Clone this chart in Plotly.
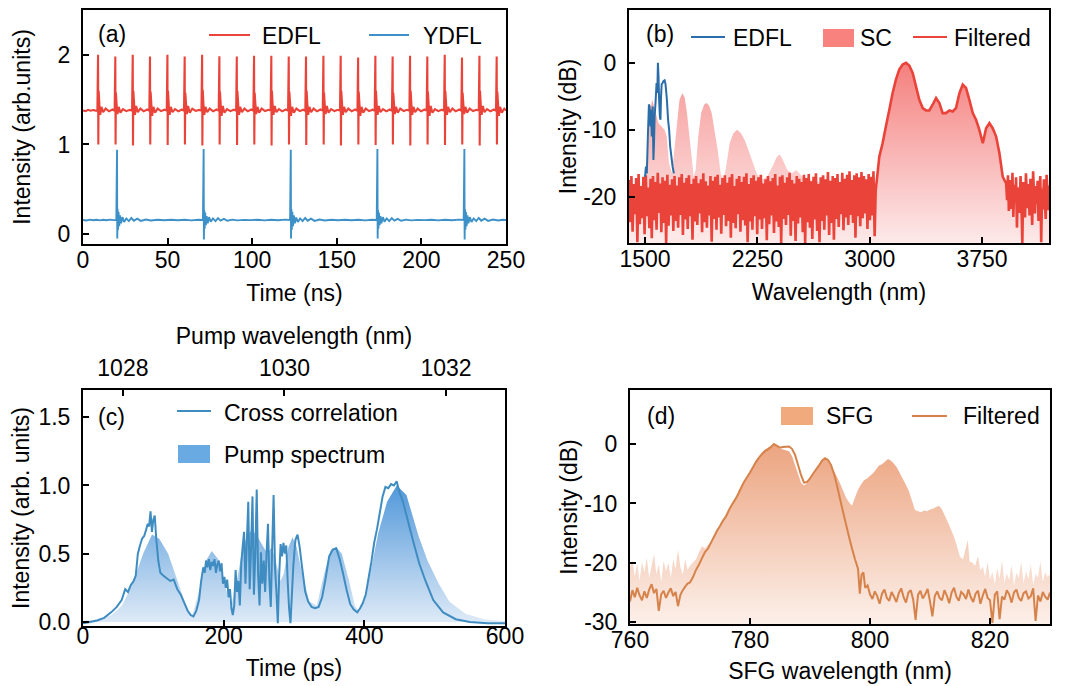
import plotly.graph_objects as go

W, H = 1084, 686
OFF = 8  # page body margin of the written html
FONT = "Liberation Sans, Arial, sans-serif"
FS = 23

def fx(p):
    return (p - OFF) / W

def fy(p):
    return 1 - (p - OFF) / H

RED = "#E9433A"
BLUE_A = "#3D91C8"
BLUE_B = "#2B6DA8"
BLUE_C = "#3F8CC1"
ORANGE = "#D6834B"
SC_SWATCH = "#F7827E"
PUMP_SWATCH = "#6AAAE2"
SFG_SWATCH = "#F0AA7E"

# ---------------- (a) temporal traces ----------------
edfl_t = [
    0.0, 1.5, 3.0, 4.5, 6.0, 7.5,
    8.5, 8.9, 9.05, 9.25, 9.7, 10.2, 10.9, 11.9, 13.4, 15.4, 17.4,
    18.7, 19.1, 19.25, 19.45, 19.9, 20.4, 21.1, 22.1, 23.6, 25.6, 27.6,
    29.0, 29.4, 29.55, 29.75, 30.2, 30.7, 31.4, 32.4, 33.9, 35.9, 37.9,
    39.2, 39.6, 39.75, 39.95, 40.4, 40.9, 41.6, 42.6, 44.1, 46.1, 48.1,
    49.5, 49.9, 50.05, 50.25, 50.7, 51.2, 51.9, 52.9, 54.4, 56.4, 58.4,
    59.7, 60.1, 60.25, 60.45, 60.9, 61.4, 62.1, 63.1, 64.6, 66.6, 68.6,
    70.0, 70.4, 70.55, 70.75, 71.2, 71.7, 72.4, 73.4, 74.9, 76.9, 78.9,
    80.2, 80.6, 80.75, 80.95, 81.4, 81.9, 82.6, 83.6, 85.1, 87.1, 89.1,
    90.5, 90.9, 91.05, 91.25, 91.7, 92.2, 92.9, 93.9, 95.4, 97.4, 99.4,
    100.7, 101.1, 101.25, 101.45, 101.9, 102.4, 103.1, 104.1, 105.6, 107.6, 109.6,
    110.9, 111.3, 111.45, 111.65, 112.1, 112.6, 113.3, 114.3, 115.8, 117.8, 119.8,
    121.2, 121.6, 121.75, 121.95, 122.4, 122.9, 123.6, 124.6, 126.1, 128.1, 130.1,
    131.4, 131.8, 131.95, 132.15, 132.6, 133.1, 133.8, 134.8, 136.3, 138.3, 140.3,
    141.7, 142.1, 142.25, 142.45, 142.9, 143.4, 144.1, 145.1, 146.6, 148.6, 150.6,
    151.9, 152.3, 152.45, 152.65, 153.1, 153.6, 154.3, 155.3, 156.8, 158.8, 160.8,
    162.2, 162.6, 162.75, 162.95, 163.4, 163.9, 164.6, 165.6, 167.1, 169.1, 171.1,
    172.4, 172.8, 172.95, 173.15, 173.6, 174.1, 174.8, 175.8, 177.3, 179.3, 181.3,
    182.6, 183.0, 183.15, 183.35, 183.8, 184.3, 185.0, 186.0, 187.5, 189.5, 191.5,
    192.9, 193.3, 193.45, 193.65, 194.1, 194.6, 195.3, 196.3, 197.8, 199.8, 201.8,
    203.1, 203.5, 203.65, 203.85, 204.3, 204.8, 205.5, 206.5, 208.0, 210.0, 212.0,
    213.4, 213.8, 213.95, 214.15, 214.6, 215.1, 215.8, 216.8, 218.3, 220.3, 222.3,
    223.6, 224.0, 224.15, 224.35, 224.8, 225.3, 226.0, 227.0, 228.5, 230.5, 232.5,
    233.9, 234.3, 234.45, 234.65, 235.1, 235.6, 236.3, 237.3, 238.8, 240.8, 242.8,
    244.1, 244.5, 244.65, 244.85, 245.3, 245.8, 246.5, 247.5, 249.0, 250.0,
]
edfl_v = [
    1.38, 1.372, 1.386, 1.376, 1.384, 1.378,
    1.376, 2.00, 1.00, 1.60, 1.45, 1.33, 1.42, 1.36, 1.40, 1.37, 1.39,
    1.377, 1.98, 1.00, 1.58, 1.44, 1.34, 1.42, 1.355, 1.395, 1.372, 1.386,
    1.378, 2.00, 0.99, 1.60, 1.46, 1.33, 1.43, 1.36, 1.40, 1.37, 1.39,
    1.376, 1.98, 1.00, 1.59, 1.45, 1.32, 1.42, 1.355, 1.40, 1.372, 1.388,
    1.378, 2.00, 0.995, 1.60, 1.44, 1.33, 1.42, 1.36, 1.395, 1.37, 1.39,
    1.377, 1.98, 1.00, 1.58, 1.46, 1.34, 1.43, 1.355, 1.40, 1.374, 1.386,
    1.376, 2.00, 0.99, 1.61, 1.45, 1.33, 1.42, 1.36, 1.40, 1.37, 1.39,
    1.378, 1.985, 1.00, 1.59, 1.44, 1.32, 1.43, 1.355, 1.395, 1.372, 1.388,
    1.377, 1.98, 0.995, 1.60, 1.46, 1.33, 1.42, 1.36, 1.40, 1.37, 1.39,
    1.376, 1.99, 1.00, 1.58, 1.45, 1.34, 1.42, 1.355, 1.40, 1.373, 1.387,
    1.378, 1.99, 0.99, 1.60, 1.44, 1.33, 1.43, 1.36, 1.395, 1.37, 1.39,
    1.377, 1.98, 1.00, 1.59, 1.46, 1.32, 1.42, 1.355, 1.40, 1.372, 1.388,
    1.376, 1.98, 0.995, 1.60, 1.45, 1.33, 1.42, 1.36, 1.40, 1.37, 1.39,
    1.378, 1.99, 1.00, 1.58, 1.44, 1.34, 1.43, 1.355, 1.395, 1.373, 1.387,
    1.377, 1.99, 0.99, 1.60, 1.46, 1.33, 1.42, 1.36, 1.40, 1.37, 1.39,
    1.376, 1.97, 1.00, 1.59, 1.45, 1.32, 1.42, 1.355, 1.40, 1.372, 1.388,
    1.378, 1.99, 0.995, 1.60, 1.44, 1.33, 1.43, 1.36, 1.395, 1.37, 1.39,
    1.377, 1.98, 1.00, 1.58, 1.46, 1.34, 1.42, 1.355, 1.40, 1.373, 1.387,
    1.376, 1.99, 0.99, 1.60, 1.45, 1.33, 1.42, 1.36, 1.40, 1.37, 1.39,
    1.378, 1.98, 1.00, 1.59, 1.44, 1.32, 1.43, 1.355, 1.395, 1.372, 1.388,
    1.377, 2.00, 0.995, 1.60, 1.46, 1.33, 1.42, 1.36, 1.40, 1.37, 1.39,
    1.376, 1.97, 1.00, 1.58, 1.45, 1.34, 1.42, 1.355, 1.40, 1.373, 1.387,
    1.378, 1.99, 0.99, 1.60, 1.44, 1.33, 1.43, 1.36, 1.395, 1.37, 1.39,
    1.377, 1.98, 1.00, 1.59, 1.46, 1.32, 1.42, 1.355, 1.40, 1.38,
]

ydfl_t = [
    0, 2, 4, 6, 8, 10, 12, 14, 16, 18, 19.7,
    20.1, 20.25, 20.45, 20.7, 21.0, 21.4, 21.9, 22.5, 23.3, 24.3, 25.6, 27.1, 28.6,
    30.1, 32.1, 34.1, 37.1, 40.1, 44.1, 48.1, 52.1, 56.1, 60.1, 64.1, 68.1, 70.9,
    71.3, 71.45, 71.65, 71.9, 72.2, 72.6, 73.1, 73.7, 74.5, 75.5, 76.8, 78.3, 79.8,
    81.3, 83.3, 85.3, 88.3, 91.3, 95.3, 99.3, 103.3, 107.3, 111.3, 115.3, 119.3, 122.4,
    122.8, 122.95, 123.15, 123.4, 123.7, 124.1, 124.6, 125.2, 126.0, 127.0, 128.3, 129.8, 131.3,
    132.8, 134.8, 136.8, 139.8, 142.8, 146.8, 150.8, 154.8, 158.8, 162.8, 166.8, 170.8, 173.6,
    174.0, 174.15, 174.35, 174.6, 174.9, 175.3, 175.8, 176.4, 177.2, 178.2, 179.5, 181.0, 182.5,
    184.0, 186.0, 188.0, 191.0, 194.0, 198.0, 202.0, 206.0, 210.0, 214.0, 218.0, 222.0, 225.0,
    225.4, 225.55, 225.75, 226.0, 226.3, 226.7, 227.2, 227.8, 228.6, 229.6, 230.9, 232.4, 233.9,
    235.4, 237.4, 239.4, 242.4, 245.4, 248.0, 250.0,
]
ydfl_v = [
    0.158, 0.152, 0.162, 0.155, 0.161, 0.154, 0.160, 0.155, 0.162, 0.156, 0.158,
    0.94, -0.05, 0.28, 0.05, 0.25, 0.09, 0.21, 0.12, 0.19, 0.135, 0.175, 0.145, 0.18,
    0.15, 0.172, 0.148, 0.163, 0.153, 0.16, 0.155, 0.161, 0.155, 0.16, 0.154, 0.161, 0.157,
    0.95, -0.06, 0.27, 0.06, 0.24, 0.10, 0.20, 0.12, 0.19, 0.14, 0.175, 0.145, 0.178,
    0.15, 0.17, 0.149, 0.162, 0.154, 0.159, 0.156, 0.161, 0.154, 0.16, 0.155, 0.162, 0.157,
    0.94, -0.05, 0.28, 0.05, 0.25, 0.09, 0.21, 0.12, 0.185, 0.135, 0.175, 0.145, 0.18,
    0.15, 0.172, 0.148, 0.163, 0.153, 0.16, 0.155, 0.161, 0.155, 0.16, 0.154, 0.161, 0.157,
    0.95, -0.05, 0.27, 0.06, 0.24, 0.10, 0.20, 0.12, 0.19, 0.14, 0.175, 0.145, 0.178,
    0.15, 0.17, 0.149, 0.162, 0.154, 0.159, 0.156, 0.161, 0.154, 0.16, 0.155, 0.162, 0.157,
    0.95, -0.06, 0.28, 0.05, 0.25, 0.09, 0.21, 0.12, 0.19, 0.135, 0.175, 0.145, 0.18,
    0.15, 0.172, 0.148, 0.163, 0.153, 0.16, 0.157,
]

# ---------------- (b) spectra ----------------
edfl_wl = [1500, 1506, 1512, 1519, 1526, 1531, 1536, 1540, 1545, 1551, 1556, 1560, 1564, 1570,
           1577, 1582, 1586, 1590, 1594, 1599, 1603, 1607, 1611, 1617, 1624, 1631, 1637, 1646,
           1654, 1661, 1668, 1676, 1684, 1693]
edfl_db = [-17, -15.5, -16.5, -11, -6.2, -6.5, -9.5, -7, -11, -6.5, -14.5, -12, -8, -6,
           -3, -4.5, 0, -2, -5.5, -8, -8.5, -5, -3.2, -3, -2.7, -2.6, -3.2, -5.5,
           -8.5, -10, -12.5, -14, -15.5, -16.5]

sc_wl = [1393, 1450, 1500, 1520, 1535, 1548, 1560, 1575, 1590, 1610,
         1630, 1645, 1660, 1680, 1700, 1715, 1730, 1750, 1765, 1780,
         1795, 1810, 1825, 1838, 1855, 1875, 1895, 1912, 1928, 1945,
         1965, 1985, 2005, 2025, 2045, 2065, 2090, 2115, 2140, 2165,
         2190, 2215, 2245, 2275, 2315, 2350, 2380, 2400, 2420, 2450,
         2480, 2510, 2550, 2600, 2700, 2800, 2900, 3000, 3030,
         3040, 3050, 3064, 3086, 3108, 3131, 3153, 3175, 3197, 3220,
         3242, 3264, 3287, 3309, 3331, 3354, 3376, 3398, 3420, 3443,
         3465, 3487, 3509, 3532, 3554, 3576, 3599, 3621, 3643, 3665,
         3688, 3710, 3732, 3755, 3777, 3799, 3821, 3844, 3866, 3888,
         3911, 4000, 4100, 4197]
sc_db = [-20, -19, -18, -12, -7, -5.5, -6.5, -8, -9, -9.5,
         -10, -11, -15, -16.5, -12, -8, -5.5, -4.5, -5.2, -7.5,
         -11, -14.5, -17, -16, -11, -7.5, -6.2, -6, -6.4, -7.5,
         -10, -13, -16.5, -17.5, -15, -12, -10.5, -10, -10.5, -11.5,
         -13, -14.5, -16.5, -17.5, -17, -15.5, -14, -13.7, -14.5, -16,
         -16.5, -16, -17, -17.5, -18, -18, -18, -18, -18.5,
         -19, -17, -14, -12, -9.5, -7, -4.5, -2.5, -1, -0.25,
         0, -0.4, -1.5, -3.5, -5.5, -6.75, -7.1, -7.1, -6.25, -5.25,
         -6, -7.5, -7.5, -7.1, -7.25, -6.75, -4.5, -3.25, -3.75, -5.5,
         -7.5, -8.5, -10, -12, -9.75, -9, -9.75, -11, -13.5, -17,
         -18, -18.5, -18.5, -18.5]
SC_SPLIT = 59  # first MIR sample

# filtered: noise floor sampled every 8 nm from 1393 nm, MIR band, noise every 6 nm from 3911 nm
filt_left_db = [
    -17.5, -23.8, -16.9, -25.2, -18.1, -22.6, -17.2, -26.8, -16.6, -24.1,
    -18.4, -23.2, -17.0, -25.6, -16.8, -22.9, -18.6, -24.7, -17.3, -26.2,
    -16.9, -23.5, -17.8, -24.9, -16.4, -22.4, -18.0, -25.3, -17.1, -23.9,
    -17.6, -26.9, -16.7, -24.3, -18.2, -22.8, -17.4, -25.1, -16.9, -23.6,
    -18.3, -24.6, -17.1, -22.7, -16.6, -25.7, -17.9, -23.4, -17.2, -24.8,
    -16.8, -22.9, -18.1, -26.4, -17.3, -23.7, -16.9, -24.2, -18.0, -22.5,
    -17.4, -25.3, -16.5, -23.8, -17.7, -24.6, -18.3, -22.8, -16.9, -26.7,
    -17.6, -23.3, -17.0, -24.9, -16.7, -23.1, -18.2, -25.5, -17.2, -22.7,
    -16.8, -24.4, -17.9, -23.6, -17.1, -26.1, -16.6, -23.9, -18.4, -24.7,
    -17.3, -22.6, -16.9, -25.2, -17.8, -23.5, -17.0, -24.3, -16.5, -26.8,
    -18.1, -23.7, -17.2, -24.9, -16.8, -22.9, -17.6, -25.6, -17.1, -23.4,
    -16.7, -24.8, -18.0, -23.2, -17.4, -26.5, -16.9, -24.1, -17.7, -22.8,
    -17.2, -25.4, -16.6, -23.7, -18.3, -24.5, -17.0, -26.9, -16.8, -23.3,
    -17.9, -24.2, -17.1, -22.7, -16.4, -25.8, -17.5, -23.6, -18.0, -26.6,
    -16.9, -24.0, -17.3, -23.1, -17.8, -25.3, -16.7, -26.9, -17.2, -23.8,
    -16.6, -24.6, -17.7, -26.3, -17.0, -23.4, -16.5, -25.1, -18.1, -26.8,
    -17.1, -23.6, -16.8, -24.9, -17.4, -22.8, -16.3, -25.7, -17.6, -23.9,
    -16.9, -26.4, -17.2, -23.3, -16.6, -24.5, -17.8, -22.6, -16.4, -25.0,
    -17.3, -23.1, -16.7, -24.2, -16.2, -22.7, -17.5, -23.9, -16.8, -26.1,
    -16.5, -22.9, -17.1, -24.4, -16.3, -23.2, -16.9, -22.5, -17.4, -24.8,
    -16.6, -23.5, -17.0, -22.8, -16.2, -25.9,
]
filt_right_db = [
    -18.0, -20.5, -16.8, -22.1, -17.5, -19.6, -21.8, -16.4, -23.0, -18.2,
    -20.9, -17.1, -24.6, -18.6, -19.8, -22.4, -16.9, -21.2, -26.9, -17.8,
    -20.3, -23.1, -16.5, -19.4, -21.7, -18.1, -22.8, -17.3, -20.6, -24.2,
    -16.2, -19.9, -22.5, -18.4, -21.1, -17.6, -23.6, -19.2, -16.9, -26.8,
    -18.8, -21.9, -17.4, -20.2, -23.3, -16.7, -19.5, -22.0, -18.3,
]
filt_left_wl = [1393 + 8 * i for i in range(len(filt_left_db))]
filt_right_wl = [3911 + 6 * i for i in range(len(filt_right_db))]
filt_wl = filt_left_wl + sc_wl[59:99] + filt_right_wl
filt_db = filt_left_db + sc_db[59:99] + filt_right_db

# ---------------- (c) cross correlation & pump spectrum ----------------
cc_t = [0, 10, 20, 30, 40, 48, 55, 60, 64, 68, 72, 75, 78, 81, 84, 87, 90, 92, 94, 96,
        98, 100, 102, 104, 107, 110, 114, 119, 124, 129, 134, 139, 144, 149, 153, 157,
        161, 165, 168, 171, 173, 175, 177, 179, 181, 183, 185, 187, 189, 191, 193, 195,
        197, 199, 201, 203, 205, 207, 209, 211, 213,
        215, 217, 219, 221, 223, 225, 227, 229, 231, 233, 235, 237, 239, 241, 243, 245,
        247, 249, 251, 253, 255, 257, 259, 261, 263, 265, 267, 269, 271, 273, 275, 277,
        279, 281, 283, 285, 287, 289, 291, 293, 295, 297, 299,
        302, 305, 308, 312, 316, 320, 325, 330, 335, 340, 345, 350, 355, 360, 365, 370,
        375, 380, 385, 390, 394, 398, 402, 406, 410, 414, 418, 422, 426, 430, 434, 438,
        442, 446, 450, 455, 462, 470, 478, 487, 498, 512, 530, 550, 575, 600]
cc_v = [-0.01, 0.0, 0.01, 0.03, 0.07, 0.11, 0.16, 0.24, 0.22, 0.27, 0.30, 0.34, 0.50, 0.56,
        0.61, 0.63, 0.68, 0.72, 0.70, 0.81, 0.66, 0.75, 0.78, 0.62, 0.45, 0.36, 0.34, 0.32,
        0.30, 0.31, 0.24, 0.20, 0.14, 0.08, 0.05, 0.04,
        0.08, 0.16, 0.30, 0.40, 0.36, 0.45, 0.40, 0.46, 0.38, 0.44, 0.41, 0.46, 0.36, 0.42,
        0.45, 0.37, 0.43, 0.28, 0.33, 0.25, 0.31, 0.18, 0.24, 0.10, 0.05,
        0.12, 0.38, 0.22, 0.30, 0.12, 0.43, 0.55, 0.66, 0.28, 0.60, 0.88, 0.24, 0.55, 0.92,
        0.20, 0.50, 0.97, 0.35, 0.12, 0.51, 0.28, 0.45, 0.22, 0.50, 0.72, 0.30, 0.11, 0.55,
        0.93, 0.40, 0.22, -0.01, 0.35, 0.57, 0.48, 0.58, 0.50, 0.56, 0.30, 0.10, -0.01,
        0.20, 0.41,
        0.60, 0.64, 0.55, 0.38, 0.22, 0.15, 0.11, 0.10, 0.11, 0.18, 0.32, 0.48, 0.53, 0.54,
        0.46, 0.35, 0.23, 0.13, 0.09, 0.07, 0.10, 0.14, 0.20, 0.32, 0.44, 0.58, 0.68, 0.80,
        0.92, 0.99, 0.98, 1.01, 1.00, 1.03, 0.95, 0.88, 0.74, 0.58, 0.43, 0.30, 0.16, 0.07,
        0.02, 0.0, -0.01, -0.01]

pump_wl = [1027.51, 1027.69, 1027.86, 1027.99, 1028.12, 1028.25, 1028.36, 1028.45, 1028.56, 1028.64,
           1028.73, 1028.80, 1028.86, 1028.94, 1029.03, 1029.10, 1029.18, 1029.27, 1029.34, 1029.41,
           1029.47, 1029.53, 1029.60, 1029.67, 1029.74, 1029.79, 1029.84, 1029.89, 1029.95, 1029.99,
           1030.05, 1030.10, 1030.15, 1030.22, 1030.31, 1030.40, 1030.49, 1030.57, 1030.64, 1030.71,
           1030.80, 1030.87, 1030.92, 1030.99, 1031.07, 1031.16, 1031.27, 1031.39, 1031.51, 1031.66,
           1031.77, 1031.91, 1032.04, 1032.24, 1032.47, 1032.73]
pump_v = [0.01, 0.02, 0.05, 0.12, 0.28, 0.50, 0.64, 0.61, 0.50, 0.36,
          0.20, 0.09, 0.05, 0.22, 0.45, 0.52, 0.46, 0.25, 0.12, 0.30,
          0.50, 0.62, 0.68, 0.62, 0.55, 0.50, 0.55, 0.45, 0.30, 0.35,
          0.55, 0.62, 0.55, 0.35, 0.15, 0.12, 0.35, 0.52, 0.55, 0.50,
          0.30, 0.12, 0.08, 0.15, 0.38, 0.65, 0.88, 1.00, 0.93, 0.63,
          0.45, 0.28, 0.15, 0.06, 0.02, 0.005]

# ---------------- (d) SFG spectra ----------------
sfgf_left_db = [-26.5, -24.6, -25.8, -24.2, -25.5, -26.3, -24.8, -25.9, -24.5, -23.6,
                -25.1, -24.4, -28.1, -25.3, -24.7, -25.9, -25.0, -24.3, -25.6, -24.9,
                -27.3, -25.4, -24.6, -24.0, -23.5]
sfgf_mid_db = [-23.3, -22.4, -21.2, -20.3, -19.2, -18.2, -17.6, -16.6, -15.6, -14.6,
               -13.8, -12.9, -12.2, -11.1, -10.2, -9.4, -8.5, -7.4, -6.4, -5.6,
               -4.8, -3.9, -3.0, -2.3, -1.7, -1.2, -0.9, -0.5, 0.0, -0.3,
               -0.6, -0.5, -0.45, -0.4, -0.8, -1.8, -3.5, -5.2, -6.5, -6.4,
               -5.8, -5.0, -4.3, -3.6, -2.8, -2.4, -2.7, -3.5, -5.0, -7.0,
               -9.2, -11.4, -13.5, -15.6, -17.6, -19.4, -21.0]
sfgf_tail_nm = [798.3, 798.6, 798.9, 799.2, 799.6, 800.0]
sfgf_tail_db = [-25.2, -22.0, -21.6, -24.2, -23.8, -25.3]
sfgf_right_db = [
    -26.1, -24.8, -25.6, -26.9, -25.2, -24.5, -25.9, -26.4, -24.9, -25.7,
    -26.6, -25.1, -24.3, -25.8, -26.7, -25.0, -24.6, -26.2, -29.6, -25.4,
    -24.7, -26.0, -25.3, -24.4, -26.5, -29.0, -25.6, -24.8, -25.9, -26.3,
    -24.6, -25.5, -26.8, -25.0, -24.2, -25.7, -26.4, -24.9, -25.3, -26.1,
    -24.5, -25.8, -26.6, -25.2, -24.7, -26.9, -25.5, -24.4, -25.9, -26.3,
    -30.1, -25.4, -24.8, -29.5, -25.7, -26.2, -24.6, -25.3, -26.7, -25.0,
    -24.5, -25.9, -26.4, -25.1, -24.8, -26.0, -25.6, -24.3, -29.8, -25.5,
    -26.5, -24.9, -25.7, -26.2, -25.0,
]
sfgf_nm = ([round(760 + 0.4 * i, 1) for i in range(len(sfgf_left_db))]
           + [770 + 0.5 * i for i in range(len(sfgf_mid_db))]
           + sfgf_tail_nm
           + [round(800.4 + 0.4 * i, 1) for i in range(len(sfgf_right_db))])
sfgf_db = sfgf_left_db + sfgf_mid_db + sfgf_tail_db + sfgf_right_db

sfg_left_db = [-20.8, -19.6, -22.3, -20.1, -23.0, -19.9, -21.6, -19.2, -22.5, -20.6,
               -18.6, -21.9, -20.3, -23.2, -19.7, -21.4, -20.0, -22.6, -19.5, -21.1,
               -17.8, -20.7, -22.0, -19.4, -21.2, -20.5]
sfg_mid_db = [-20.0, -19.4, -18.2, -17.2, -17.6, -17.0, -16.4, -15.4, -14.5, -13.6,
              -12.8, -12.0, -11.0, -10.1, -9.3, -8.4, -7.3, -6.3, -5.5, -4.7,
              -3.8, -2.8, -2.0, -1.4, -0.9, -0.6, -0.4, 0.0, -0.4, -0.8,
              -0.9, -1.0, -1.2, -2.0, -3.6, -5.2, -6.5, -7.0, -6.6, -5.9,
              -5.1, -4.4, -3.7, -2.9, -2.5, -2.9, -3.6, -4.5, -5.5, -6.6,
              -7.8, -9.0, -9.8, -10.4, -9.0, -7.7, -6.8, -6.1, -5.8, -5.4,
              -4.9, -4.3, -3.6, -3.4, -2.9, -2.5, -2.8, -3.3, -4.0, -4.9,
              -5.8, -6.9, -8.0, -9.6, -11.1, -11.3, -11.5, -11.2, -11.3, -11.0,
              -10.9, -10.6, -10.4, -11.0, -12.0, -13.2, -14.4, -15.6, -17.2, -19.0,
              -19.4]
sfg_right_nm = [816.0, 816.3, 816.6, 817.0, 817.5, 818.0, 818.4, 818.8, 819.2, 819.6,
                820.0, 820.4, 820.8, 821.2, 821.6, 822.0, 822.4, 822.8, 823.2, 823.6,
                824.0, 824.4, 824.8, 825.2, 825.6, 826.0, 826.4, 826.8, 827.2, 827.6,
                828.0, 828.4, 828.8, 829.2, 829.6, 830.0]
sfg_right_db = [-17.5, -16.2, -19.8, -19.9, -20.5, -18.9, -21.3, -20.6, -22.4, -19.8,
                -22.8, -21.5, -23.6, -20.9, -22.7, -19.6, -23.4, -21.8, -22.9, -20.4,
                -23.8, -21.7, -22.6, -19.9, -23.5, -21.4, -22.8, -20.3, -23.7, -21.9,
                -22.5, -19.8, -23.2, -21.6, -22.4, -21.9]
sfg_nm = ([round(760 + 0.4 * i, 1) for i in range(len(sfg_left_db))]
          + [770.5 + 0.5 * i for i in range(len(sfg_mid_db))]
          + sfg_right_nm)
sfg_db = sfg_left_db + sfg_mid_db + sfg_right_db

# tick labels
a_xticks = [0, 50, 100, 150, 200, 250]
a_yticks = [0, 1, 2]
b_xticks = [1500, 2250, 3000, 3750]
b_yticks = [-20, -10, 0]
c_xticks = [0, 200, 400, 600]
c_yticks = [0.0, 0.5, 1.0, 1.5]
c_topticks = [1028, 1030, 1032]
d_xticks = [760, 780, 800, 820]
d_yticks = [-30, -20, -10, 0]
mir_ticks = [3000, 3300, 3600, 3900, 4200]
PUMP_NM = 1031.0
mir_tick_pos = [1.0 / (1.0 / PUMP_NM + 1.0 / m) for m in mir_ticks]

# axis ranges
A_X, A_Y = [0, 250], [-0.11, 2.5]
B_X, B_Y = [1393, 4197], [-26.9, 7.9]
C_X, C_Y = [0, 600], [-0.03, 1.7]
C_TOP = [1027.506, 1032.73]
D_X, D_Y = [760, 830], [-30.3, 9.1]

def ln(color, width):
    return dict(color=color, width=width, simplify=False)

NOLINE = dict(width=0, color="rgba(0,0,0,0)")

fig = go.Figure()
# (a)
fig.add_trace(go.Scatter(x=edfl_t, y=edfl_v, mode="lines", line=ln(RED, 2.1),
                         xaxis="x", yaxis="y", name="EDFL"))
fig.add_trace(go.Scatter(x=ydfl_t, y=ydfl_v, mode="lines", line=ln(BLUE_A, 1.9),
                         xaxis="x", yaxis="y", name="YDFL"))
# (b)
fig.add_trace(go.Scatter(x=B_X, y=[B_Y[0] - 1, B_Y[0] - 1], mode="lines", line=NOLINE,
                         xaxis="x2", yaxis="y2", hoverinfo="skip", name="floor b1"))
fig.add_trace(go.Scatter(x=sc_wl[:SC_SPLIT + 1], y=sc_db[:SC_SPLIT + 1], mode="lines", line=NOLINE,
                         fill="tonexty",
                         fillgradient=dict(type="vertical",
                                           colorscale=[[0, "rgb(253,237,237)"], [1, "rgb(246,152,150)"]],
                                           start=B_Y[0], stop=0),
                         xaxis="x2", yaxis="y2", name="SC"))
fig.add_trace(go.Scatter(x=B_X, y=[B_Y[0] - 1, B_Y[0] - 1], mode="lines", line=NOLINE,
                         xaxis="x2", yaxis="y2", hoverinfo="skip", name="floor b2"))
fig.add_trace(go.Scatter(x=sc_wl[SC_SPLIT:], y=sc_db[SC_SPLIT:], mode="lines", line=NOLINE,
                         fill="tonexty",
                         fillgradient=dict(type="vertical",
                                           colorscale=[[0, "rgb(253,234,234)"], [1, "rgb(244,128,126)"]],
                                           start=B_Y[0], stop=0),
                         xaxis="x2", yaxis="y2", name="SC MIR"))
fig.add_trace(go.Scatter(x=filt_wl, y=filt_db, mode="lines", line=ln(RED, 2.6),
                         xaxis="x2", yaxis="y2", name="Filtered"))
fig.add_trace(go.Scatter(x=edfl_wl, y=edfl_db, mode="lines", line=ln(BLUE_B, 2),
                         xaxis="x2", yaxis="y2", name="EDFL spectrum"))
# (c): pump spectrum on the wavelength axis (base), cross correlation on the time axis (overlay, on top)
fig.add_trace(go.Scatter(x=pump_wl, y=pump_v, mode="lines", line=NOLINE,
                         fill="tozeroy",
                         fillgradient=dict(type="vertical",
                                           colorscale=[[0, "rgb(222,234,247)"], [1, "rgb(82,152,218)"]],
                                           start=0, stop=1.0),
                         xaxis="x3", yaxis="y3", name="Pump spectrum"))
fig.add_trace(go.Scatter(x=cc_t, y=cc_v, mode="lines", line=ln(BLUE_C, 2),
                         xaxis="x5", yaxis="y3", name="Cross correlation"))
# (d)
fig.add_trace(go.Scatter(x=D_X, y=[D_Y[0] - 1, D_Y[0] - 1], mode="lines", line=NOLINE,
                         xaxis="x4", yaxis="y4", hoverinfo="skip", name="floor d"))
fig.add_trace(go.Scatter(x=sfg_nm, y=sfg_db, mode="lines", line=NOLINE,
                         fill="tonexty",
                         fillgradient=dict(type="vertical",
                                           colorscale=[[0, "rgb(252,240,234)"], [1, "rgb(236,164,128)"]],
                                           start=D_Y[0], stop=0),
                         xaxis="x4", yaxis="y4", name="SFG"))
fig.add_trace(go.Scatter(x=sfgf_nm, y=sfgf_db, mode="lines", line=ln(ORANGE, 2),
                         xaxis="x4", yaxis="y4", name="Filtered SFG"))

tfont = dict(family=FONT, size=FS, color="black")
common = dict(showline=True, linecolor="black", linewidth=2, mirror=True, ticks="inside",
              ticklen=6, tickwidth=1.6, tickcolor="black", showgrid=False, zeroline=False,
              tickfont=tfont, automargin=False)

def xax(dom, anchor, rng, vals, title, standoff=13):
    return dict(common, domain=dom, anchor=anchor, range=rng, tickvals=vals,
                title=dict(text=title, font=tfont, standoff=standoff), ticklabelstandoff=-6)

def yax(dom, anchor, rng, vals, texts, title, standoff):
    return dict(common, domain=dom, anchor=anchor, range=rng, tickvals=vals, ticktext=texts,
                title=dict(text=title, font=tfont, standoff=standoff), ticklabelstandoff=6)

dom_ax = [fx(83), fx(506)]
dom_ay = [fy(244), fy(10)]
dom_bx = [fx(629), fx(1049)]
dom_by = [fy(243), fy(10)]
dom_cx = [fx(83), fx(505)]
dom_cy = [fy(626), fy(390)]
dom_dx = [fx(630), fx(1050)]
dom_dy = [fy(624), fy(390)]

layout = dict(
    width=W, height=H, margin=dict(l=0, r=0, t=0, b=0),
    paper_bgcolor="white", plot_bgcolor="rgba(0,0,0,0)", showlegend=False,
    font=dict(family=FONT, size=FS, color="black"),
    xaxis=xax(dom_ax, "y", A_X, a_xticks, "Time (ns)"),
    yaxis=yax(dom_ay, "x", A_Y, a_yticks, [str(v) for v in a_yticks], "Intensity (arb.units)", 21),
    xaxis2=xax(dom_bx, "y2", B_X, b_xticks, "Wavelength (nm)"),
    yaxis2=yax(dom_by, "x2", B_Y, b_yticks, [str(v) for v in b_yticks], "Intensity (dB)", 0),
    xaxis3=dict(common, domain=dom_cx, anchor="y3", side="top", range=C_TOP, tickvals=c_topticks,
                ticklabelstandoff=3,
                title=dict(text="Pump wavelength (nm)", font=tfont, standoff=4)),
    xaxis5=dict(common, overlaying="x3", side="bottom", anchor="y3", range=C_X, tickvals=c_xticks,
                showline=False, mirror=False, ticklabelstandoff=-6,
                title=dict(text="Time (ps)", font=tfont, standoff=11)),
    yaxis3=yax(dom_cy, "x3", C_Y, c_yticks, ["%.1f" % v for v in c_yticks], "Intensity (arb. units)", 3),
    xaxis4=xax(dom_dx, "y4", D_X, d_xticks, "SFG wavelength (nm)", 11),
    yaxis4=yax(dom_dy, "x4", D_Y, d_yticks, [str(v) for v in d_yticks], "Intensity (dB)", 0),
    xaxis6=dict(common, overlaying="x4", side="top", anchor="y4", range=D_X, tickvals=mir_tick_pos,
                ticktext=[str(m) for m in mir_ticks], showline=False, mirror=False,
                ticklabelstandoff=3,
                title=dict(text="MIR wavelength (nm)", font=tfont, standoff=4)),
)
fig.update_layout(**layout)

# panel labels and legends
shapes = []
annots = []

def label(x, y, text):
    annots.append(dict(x=fx(x), y=fy(y), xref="paper", yref="paper", text=text, showarrow=False,
                       xanchor="left", yanchor="middle", font=tfont))

def line_key(x0, x1, y, color, width=2):
    shapes.append(dict(type="line", xref="paper", yref="paper", x0=fx(x0), x1=fx(x1),
                       y0=fy(y), y1=fy(y), line=dict(color=color, width=width)))

def box_key(x0, x1, y0, y1, color):
    shapes.append(dict(type="rect", xref="paper", yref="paper", x0=fx(x0), x1=fx(x1),
                       y0=fy(y1), y1=fy(y0), line=dict(width=0), fillcolor=color))

# (a)
label(96, 34, "(a)")
line_key(209, 250, 35, RED)
label(260, 36, "EDFL")
line_key(369, 409, 35, BLUE_A)
label(421, 36, "YDFL")
# (b)
label(644, 34, "(b)")
line_key(691, 725, 37, BLUE_B)
label(731, 38, "EDFL")
box_key(823, 854, 29, 47, SC_SWATCH)
label(858, 38, "SC")
line_key(913, 947, 37, RED)
label(952, 38, "Filtered")
# (c)
label(96, 417, "(c)")
line_key(177, 211, 411, BLUE_C)
label(222, 413, "Cross correlation")
box_key(178, 210, 445, 463, PUMP_SWATCH)
label(222, 455, "Pump spectrum")
# (d)
label(645, 416, "(d)")
box_key(781, 813, 407, 425, SFG_SWATCH)
label(824, 416, "SFG")
line_key(912, 947, 416, ORANGE)
label(961, 416, "Filtered")

fig.update_layout(shapes=shapes, annotations=annots)
fig.write_html("out.html")
